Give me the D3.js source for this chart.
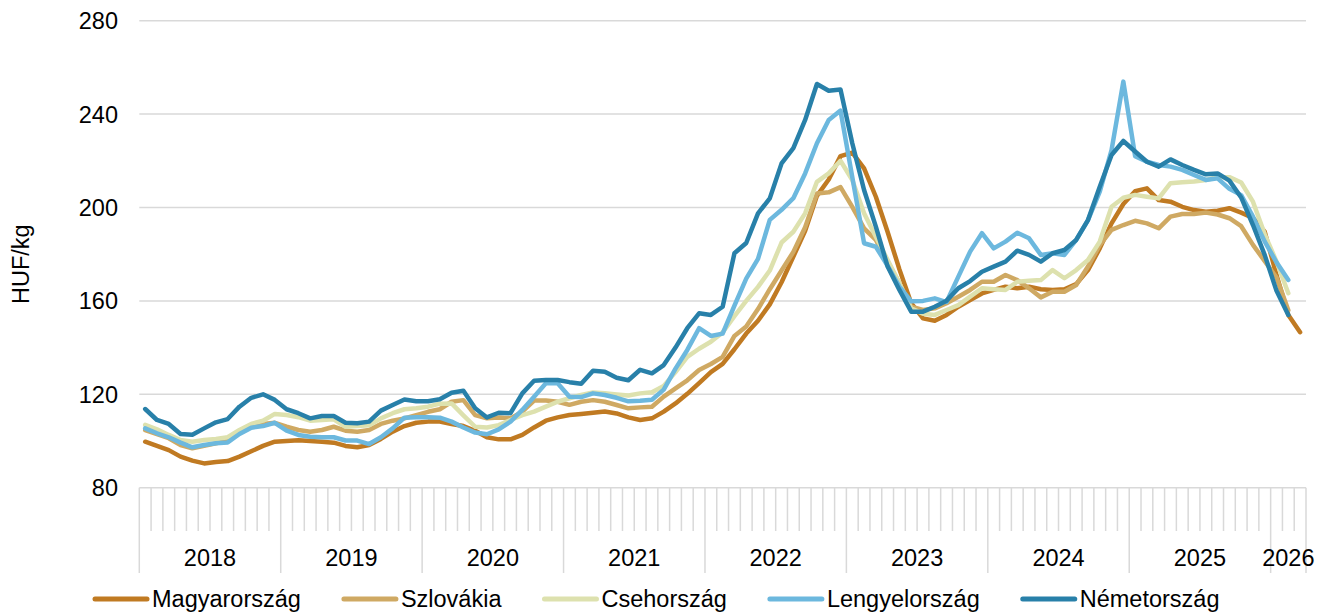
<!DOCTYPE html>
<html>
<head>
<meta charset="utf-8">
<script src="https://cdn.jsdelivr.net/npm/d3@7"></script>
<style>
  html, body { margin: 0; padding: 0; background: #ffffff; }
  svg { display: block; font-family: "Liberation Sans", Arial, sans-serif; }
</style>
</head>
<body>
<svg id="chart" width="1330" height="613"></svg>
<script>
// ---- Data (monthly, Jan 2018 onwards) ----
const years = ["2018","2019","2020","2021","2022","2023","2024","2025","2026"];
const monthsPerYear = [12,12,12,12,12,12,12,12,3];
const yTicks = [80,120,160,200,240,280];
const yLabel = "HUF/kg";
const seriesNames = ["Magyarország","Szlovákia","Csehország","Lengyelország","Németország"];
const seriesColors = ["#C07A22","#CFA963","#DDE1AE","#6CB8DE","#2880A9"];

const magyarorszag = [
  99.7,97.9,96.1,93.3,91.6,90.4,91.0,91.4,93.3,95.6,97.9,99.7,
  100.0,100.3,100.0,99.7,99.3,97.9,97.3,98.3,100.9,104.0,106.4,107.8,
  108.3,108.3,107.3,106.4,104.4,101.6,100.7,100.7,102.6,105.8,108.7,110.1,
  111.1,111.6,112.1,112.6,111.8,110.1,109.0,109.7,112.6,116.1,120.2,124.8,
  129.5,133.0,139.3,146.0,151.5,158.5,168.0,179.0,190.0,205.0,212.0,222.0,
  223.5,216.8,204.6,189.5,173.5,159.0,152.5,151.5,154.0,157.5,160.4,163.2,
  164.7,166.1,165.4,166.1,165.0,164.7,165.0,167.2,173.2,182.5,193.2,201.5,
  207.0,208.2,203.2,202.5,200.3,198.9,198.2,198.6,199.7,197.8,195.5,189.6,
  171.0,154.0,146.6
];
const szlovakia = [
  104.7,103.0,101.2,98.3,96.9,97.9,99.0,100.2,104.0,106.4,107.3,107.8,
  106.1,104.7,104.0,104.7,106.1,104.4,104.0,104.7,107.3,108.7,109.7,111.1,
  112.5,113.6,116.8,117.5,111.1,109.7,110.1,109.7,112.6,117.3,117.3,116.8,
  115.5,116.8,117.5,116.8,115.4,114.0,114.4,114.7,119.0,122.5,126.0,130.4,
  133.0,136.0,145.0,149.0,156.5,165.0,173.0,181.0,191.5,206.0,206.5,208.7,
  200.3,191.1,186.1,176.8,167.5,157.5,156.1,156.8,159.0,161.8,164.7,168.2,
  168.2,171.1,168.9,165.4,161.5,163.9,163.9,166.8,174.7,183.9,190.4,192.5,
  194.3,193.2,191.1,196.1,197.2,197.2,197.8,197.0,195.4,192.0,184.0,177.0,
  170.0,156.0
];
const csehorszag = [
  106.9,105.0,102.6,100.4,99.7,100.4,100.9,101.6,104.7,107.3,108.7,111.6,
  111.1,110.2,108.7,109.0,109.3,106.1,106.4,106.7,109.7,111.9,113.6,114.0,
  114.7,116.0,116.1,111.0,106.1,105.8,106.8,109.0,111.1,112.6,114.7,116.8,
  118.3,119.7,120.8,120.4,119.9,119.5,120.4,120.9,123.6,129.5,136.0,139.5,
  142.5,146.5,153.5,160.0,166.0,173.0,185.0,189.6,197.5,211.0,214.6,220.0,
  211.8,197.5,187.5,177.5,167.5,156.8,154.5,154.0,156.1,158.2,161.8,165.4,
  165.0,164.7,168.2,168.6,168.9,173.2,169.7,173.2,177.5,185.4,200.3,204.2,
  205.4,204.6,203.9,210.4,210.8,211.1,211.8,213.0,213.0,210.7,202.5,188.5,
  176.8,163.3
];
const lengyelorszag = [
  105.4,103.3,101.6,99.3,97.3,98.3,99.0,99.4,103.0,105.7,106.4,107.8,
  104.4,102.6,101.8,101.6,101.6,100.2,100.2,98.7,101.6,105.4,110.0,110.2,
  110.2,110.0,108.3,105.8,103.6,102.9,105.0,108.3,113.3,119.0,124.7,124.7,
  119.0,118.8,120.4,119.7,118.5,117.0,117.2,117.7,122.0,131.0,139.0,148.3,
  145.0,146.0,158.0,169.5,178.0,194.7,199.0,204.0,214.6,227.5,237.5,241.5,
  213.0,184.7,183.2,175.0,166.1,159.8,160.0,161.1,159.5,170.4,181.1,189.0,
  182.5,185.4,189.2,186.8,179.7,180.4,179.7,186.1,194.6,206.8,224.6,253.9,
  222.0,219.6,218.2,217.5,216.1,213.9,211.8,212.5,208.0,205.3,196.1,185.4,
  176.5,169.0
];
const nemetorszag = [
  113.7,109.0,107.3,103.0,102.7,105.4,108.0,109.4,114.7,118.5,120.0,117.6,
  113.6,111.9,109.7,110.7,110.7,107.8,107.6,108.3,113.0,115.4,117.8,117.0,
  117.0,117.9,120.7,121.5,114.0,110.1,112.1,111.9,120.4,125.8,126.1,126.1,
  125.2,124.5,130.1,129.7,127.1,126.0,130.5,129.0,132.5,140.0,148.3,154.7,
  154.0,157.5,180.4,184.8,197.5,203.9,218.9,225.4,237.5,252.9,250.0,250.5,
  227.5,207.5,191.8,174.7,164.7,155.4,155.4,157.5,160.1,165.4,168.5,172.5,
  174.7,176.8,181.5,179.7,176.8,180.4,181.8,186.1,194.6,208.9,222.5,228.5,
  224.0,219.6,217.5,220.6,218.2,216.1,214.2,214.6,211.5,204.3,192.5,179.6,
  164.3,154.0
];
const seriesValues = [magyarorszag, szlovakia, csehorszag, lengyelorszag, nemetorszag];

// ---- Layout ----
const plotLeft = 139.3, plotRight = 1306, plotTop = 20.7, plotBottom = 487.7;
const gridColor = "#d9d9d9";
const fontSize = 23.5;

const monthKeys = [];
years.forEach((yr, yi) => {
  for (let m = 0; m < monthsPerYear[yi]; m++) monthKeys.push(yr + "-" + String(m + 1).padStart(2, "0"));
});

const x = d3.scaleBand().domain(monthKeys).range([plotLeft, plotRight]).paddingInner(0).paddingOuter(0);
const y = d3.scaleLinear().domain([80, 280]).range([plotBottom, plotTop]);
const cx = k => x(k) + x.bandwidth() / 2;

const svg = d3.select("#chart");

// gridlines
svg.append("g").selectAll("line").data(yTicks).join("line")
  .attr("x1", plotLeft).attr("x2", plotRight)
  .attr("y1", d => y(d)).attr("y2", d => y(d))
  .attr("stroke", gridColor).attr("stroke-width", 1.5);

// y tick labels
svg.append("g").selectAll("text").data(yTicks).join("text")
  .attr("x", 118).attr("y", d => y(d)).attr("dy", "0.36em")
  .attr("text-anchor", "end").attr("font-size", fontSize).attr("fill", "#000")
  .text(d => d);

// y axis title
svg.append("text")
  .attr("transform", "translate(29," + ((plotTop + plotBottom) / 2 + 10) + ") rotate(-90)")
  .attr("text-anchor", "middle").attr("font-size", fontSize).attr("fill", "#000")
  .text(yLabel);

// month ticks
const tickG = svg.append("g");
monthKeys.forEach((k, i) => {
  const xx = x(k);
  const isYearStart = k.endsWith("-01");
  tickG.append("line")
    .attr("x1", xx).attr("x2", xx)
    .attr("y1", plotBottom).attr("y2", isYearStart ? 573 : 531)
    .attr("stroke", gridColor).attr("stroke-width", 1.5);
});
tickG.append("line")
  .attr("x1", plotRight).attr("x2", plotRight)
  .attr("y1", plotBottom).attr("y2", 573)
  .attr("stroke", gridColor).attr("stroke-width", 1.5);

// year labels
svg.append("g").selectAll("text").data(years).join("text")
  .attr("x", (yr, i) => {
    const first = yr + "-01";
    const last = yr + "-" + String(monthsPerYear[i]).padStart(2, "0");
    return (x(first) + x(last) + x.bandwidth()) / 2;
  })
  .attr("y", 558).attr("dy", "0.36em")
  .attr("text-anchor", "middle").attr("font-size", fontSize).attr("fill", "#000")
  .text(d => d);

// lines
const line = d3.line().x((d, i) => cx(monthKeys[i])).y(d => y(d));
svg.append("g").selectAll("path").data(seriesValues).join("path")
  .attr("d", d => line(d))
  .attr("fill", "none")
  .attr("stroke", (d, i) => seriesColors[i])
  .attr("stroke-width", 4.5)
  .attr("stroke-linejoin", "round")
  .attr("stroke-linecap", "round");

// legend
const legend = svg.append("g");
let lx = 95;
const ly = 599;
seriesNames.forEach((name, i) => {
  legend.append("line")
    .attr("x1", lx).attr("x2", lx + 52).attr("y1", ly).attr("y2", ly)
    .attr("stroke", seriesColors[i]).attr("stroke-width", 5).attr("stroke-linecap", "round");
  const t = legend.append("text")
    .attr("x", lx + 57).attr("y", ly).attr("dy", "0.36em")
    .attr("font-size", fontSize).attr("fill", "#000").text(name);
  const w = t.node().getComputedTextLength();
  lx = lx + 57 + w + 43;
});
</script>
</body>
</html>
